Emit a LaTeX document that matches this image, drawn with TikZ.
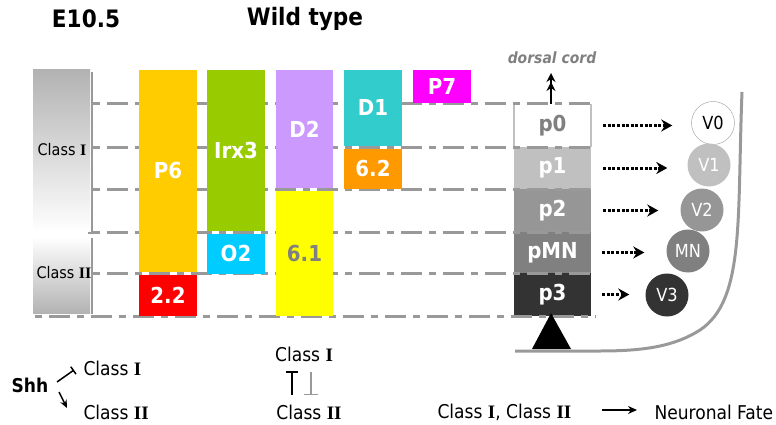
\documentclass[tikz,border=0pt]{standalone}
\usepackage{fontspec}
\setmainfont{DejaVu Sans Condensed}
\newfontfamily\romfont{Liberation Serif}
\usetikzlibrary{positioning,arrows.meta}

\definecolor{linegray}{HTML}{999999}
\definecolor{labgray}{HTML}{808080}
\definecolor{p6col}{HTML}{FFCC00}
\definecolor{twotwocol}{HTML}{FF0000}
\definecolor{irxcol}{HTML}{99CC00}
\definecolor{otwocol}{HTML}{00CCFF}
\definecolor{dtwocol}{HTML}{CC99FF}
\definecolor{sixonecol}{HTML}{FFFF00}
\definecolor{donecol}{HTML}{33CCCC}
\definecolor{sixtwocol}{HTML}{FF9900}
\definecolor{p7col}{HTML}{FF00FF}
\definecolor{pone}{HTML}{C0C0C0}
\definecolor{ptwo}{HTML}{969696}
\definecolor{pmn}{HTML}{808080}
\definecolor{pthree}{HTML}{333333}

\newcommand{\clsname}[1]{Class {\romfont\bfseries #1}}

\tikzset{
  gene/.style={anchor=north, minimum width=58pt, inner sep=0pt, text=white,
    font=\fontsize{22}{22}\selectfont\bfseries},
  prog/.style={minimum width=77pt, inner sep=0pt, text=white,
    font=\fontsize{22}{22}\selectfont\bfseries},
  fate/.style={circle, minimum size=43pt, inner sep=0pt, text=white,
    font=\fontsize{18}{18}\selectfont},
  rowline/.style={draw=linegray, line width=3pt, dash pattern=on 7pt off 7pt on 21pt off 7pt},
  fatearrow/.style={line width=3pt, dash pattern=on 3pt off 1.6pt,
    -{Stealth[length=11pt,width=12pt]}},
  small/.style={font=\fontsize{16}{16}\selectfont},
  legend/.style={font=\fontsize{19}{19}\selectfont}
}

\begin{document}
\begin{tikzpicture}[x=1pt,y=-1pt]
    \useasboundingbox (0,0) rectangle (776,425);
    % ---- titles ----
    \node[font=\fontsize{24}{24}\selectfont\bfseries] (stage) at (86,19) {E10.5};
    \node[font=\fontsize{24}{24}\selectfont\bfseries] (geno) at (305,19) {Wild type};
    % ---- class column ----
    \shade[top color=black!30, bottom color=white] (33,70) rectangle (90,232);
    \shade[top color=white, bottom color=black!30] (33,237) rectangle (90,313);
    \draw[linegray, line width=2pt] (92,72) -- (92,233) -- (88,233);
    \draw[linegray, line width=2pt] (92,238) -- (92,314);
    \node[small] (clsIcol) at (62,150) {\clsname{I}};
    \node[small] (clsIIcol) at (64,273) {\clsname{II}};
    % ---- progenitor column ----
    \node[prog, fill=white, text=labgray, minimum height=43pt] (p0) at (552.5,125.5) {p0};
    \node[prog, fill=pone, minimum height=42pt] (p1) at (552.5,168) {p1};
    \node[prog, fill=ptwo, minimum height=43pt] (p2) at (552.5,210.5) {p2};
    \node[prog, fill=pmn, minimum height=41pt] (pMN) at (552.5,252.5) {pMN};
    \node[prog, fill=pthree, minimum height=43pt] (p3) at (552.5,294.5) {p3};
    \draw[pone, line width=2.5pt] (p0.north west) -- (p0.south west)
      (p0.north east) -- (p0.south east);
    % ---- row lines ----
    \foreach \y in {104,147,189,232,273}
      \draw[rowline] (93,\y) -- (596,\y);
    \draw[rowline] (35,316) -- (596,316);
    % ---- gene boxes ----
    \node[gene, fill=p6col, minimum height=201.5pt] (P6) at (168,70) {P6};
    \node[gene, fill=twotwocol, minimum height=41.5pt] (Nkx22) at (168,274.5) {2.2};
    \node[gene, fill=irxcol, minimum height=160.5pt] (Irx3) at (236,70) {Irx3};
    \node[gene, fill=otwocol, minimum height=40.5pt] (Olig2) at (236,233.5) {O2};
    \node[gene, fill=dtwocol, minimum height=117.5pt, minimum width=57pt] (Dbx2) at (304.5,70) {D2};
    \node[gene, fill=sixonecol, text=labgray, minimum height=125.5pt, minimum width=57pt] (Nkx61) at (304.5,190.5) {6.1};
    \node[gene, fill=donecol, minimum height=75.5pt] (Dbx1) at (373,70) {D1};
    \node[gene, fill=sixtwocol, minimum height=40.5pt] (Nkx62) at (373,148.5) {6.2};
    \node[gene, fill=p7col, minimum height=33pt] (Pax7) at (442,70) {P7};
    % ---- dorsal arrow ----
    \node[font=\fontsize{15.5}{15.5}\selectfont\bfseries\itshape, text=labgray] (dorsal) at (552,58) {dorsal cord};
    \coordinate (dtip) at (551,73);
    \draw[line width=2pt, -{Stealth[length=9pt,width=9pt]Stealth[length=9pt,width=9pt]}] ([xshift=-1.5pt]p0.north) -- (dtip);
    % ---- neurons ----
    \node[fate, fill=white, draw=linegray, thin, text=black] (V0) at (713,123) {V0};
    \node[fate, fill=pone] (V1) at (709,165) {V1};
    \node[fate, fill=ptwo] (V2) at (702,210) {V2};
    \node[fate, fill=pmn] (MN) at (688,251) {MN};
    \node[fate, fill=pthree] (V3) at (667,295) {V3};
    \draw[fatearrow] ([xshift=12pt]p0.east) -- ([xshift=-19pt]p0.east -| V0.west);
    \draw[fatearrow] ([xshift=12pt]p1.east) -- ([xshift=-20pt]p1.east -| V1.west);
    \draw[fatearrow] ([xshift=12pt]p2.east) -- ([xshift=-22pt]p2.east -| V2.west);
    \draw[fatearrow] ([xshift=11pt]pMN.east) -- ([xshift=-22pt]pMN.east -| MN.west);
    \draw[fatearrow] ([xshift=11pt]p3.east) -- ([xshift=-16pt]p3.east -| V3.west);
    % ---- cord outline and floor plate ----
    \draw[linegray, line width=3pt] (742,92) .. controls (737,220) and (745,300) .. (700,330)
      .. controls (675,346) and (645,351) .. (600,351) -- (515,351);
    \fill ([xshift=-1.5pt,yshift=3pt]p3.south) -- (532,349) -- (571,349) -- cycle;
    % ---- legend ----
    \node[font=\fontsize{19}{19}\selectfont\bfseries] (shh) at (30,385) {Shh};
    \node[legend, anchor=west] (shhI) at (80,368) {\clsname{I}};
    \node[legend, anchor=west] (shhII) at (80,412) {\clsname{II}};
    \draw[line width=1.5pt, -{Bar[width=9pt]}] ([shift={(27pt,3pt)}]shh.center) -- ([shift={(-6pt,-2pt)}]shhI.west);
    \draw[line width=1.5pt, -{Stealth[length=8pt,width=7pt]}] ([shift={(29pt,-7pt)}]shh.center) -- ([shift={(-13pt,4pt)}]shhII.west);
    \node[legend] (mutI) at (304,354) {\clsname{I}};
    \node[legend] (mutII) at (309,412) {\clsname{II}};
    \draw[line width=1.5pt, -{Bar[width=12pt]}] ([shift={(-17pt,17pt)}]mutII.center) -- ([shift={(-12pt,-17pt)}]mutI.center);
    \draw[linegray, line width=1.5pt, -{Bar[width=14pt]}] ([shift={(7pt,-18pt)}]mutI.center) -- ([shift={(2pt,17pt)}]mutII.center);
    \node[legend, anchor=west] (both) at (434,412) {\clsname{I}, \clsname{II}};
    \node[legend, anchor=west] (fatelbl) at (651,412) {Neuronal Fate};
    \draw[line width=2pt, -{Stealth[length=9pt,width=8pt]}] ([xshift=27pt,yshift=2pt]both.east) -- ([xshift=-14pt,yshift=2pt]fatelbl.west);
\end{tikzpicture}
\end{document}
